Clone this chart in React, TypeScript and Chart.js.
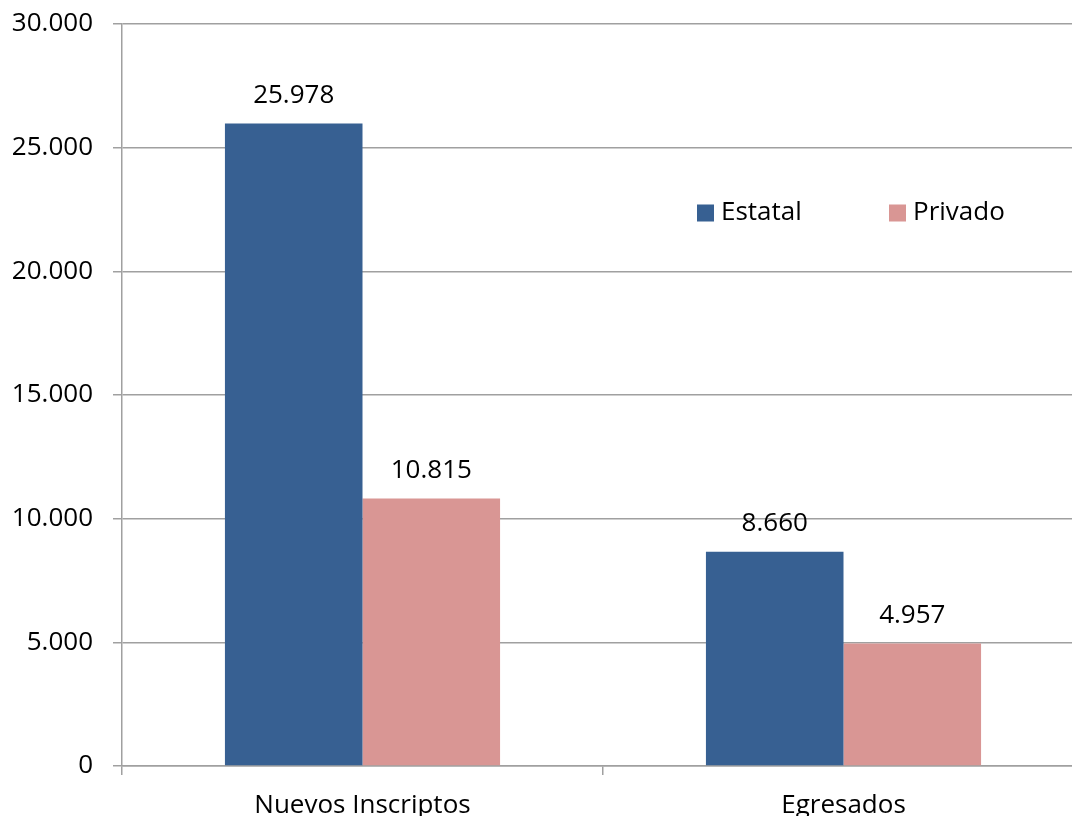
import React, { useEffect, useRef } from "react";
import { Chart, registerables } from "chart.js";

Chart.register(...registerables);

const categories = ["Nuevos Inscriptos", "Egresados"];
const estatal = [25978, 8660];
const privado = [10815, 4957];
const seriesNames = ["Estatal", "Privado"];
const yTicks = [0, 5000, 10000, 15000, 20000, 25000, 30000];

const FONT = "'Open Sans', 'Liberation Sans', sans-serif";
const FONT_SIZE = 26;

function fmt(v: number): string {
  const s = Math.round(v).toString();
  return s.replace(/\B(?=(\d{3})+(?!\d))/g, ".");
}

const valueLabels = {
  id: "valueLabels",
  afterDatasetsDraw(chart: any) {
    const ctx = chart.ctx;
    ctx.save();
    ctx.font = `${FONT_SIZE}px ${FONT}`;
    ctx.fillStyle = "#000";
    ctx.textAlign = "center";
    ctx.textBaseline = "middle";
    chart.data.datasets.forEach((ds: any, di: number) => {
      const meta = chart.getDatasetMeta(di);
      meta.data.forEach((el: any, i: number) => {
        ctx.fillText(fmt(ds.data[i]), el.x, el.y - 28);
      });
    });
    ctx.restore();
  },
};

const innerLegend = {
  id: "innerLegend",
  afterDraw(chart: any) {
    const ctx = chart.ctx;
    ctx.save();
    ctx.font = `${FONT_SIZE}px ${FONT}`;
    ctx.textBaseline = "middle";
    ctx.textAlign = "left";
    const startX = 697;
    const cy = 213;
    const step = 192;
    chart.data.datasets.forEach((ds: any, i: number) => {
      const x = startX + i * step;
      ctx.fillStyle = ds.backgroundColor;
      ctx.fillRect(x, cy - 8.5, 17, 17);
      ctx.fillStyle = "#000";
      ctx.fillText(ds.label, x + 24, cy);
    });
    ctx.restore();
  },
};

export default function App() {
  const ref = useRef<HTMLCanvasElement | null>(null);

  useEffect(() => {
    document.body.style.margin = "0";
    const canvas = ref.current;
    if (!canvas) return;
    const chart = new Chart(canvas, {
      type: "bar",
      data: {
        labels: categories,
        datasets: [
          {
            label: seriesNames[0],
            data: estatal,
            backgroundColor: "#376092",
            categoryPercentage: 0.572,
            barPercentage: 1,
          },
          {
            label: seriesNames[1],
            data: privado,
            backgroundColor: "#D99694",
            categoryPercentage: 0.572,
            barPercentage: 1,
          },
        ],
      },
      options: {
        responsive: false,
        animation: false,
        layout: { padding: { top: 24, right: 0, left: 0, bottom: 0 } },
        plugins: {
          legend: { display: false },
          tooltip: { enabled: false },
        },
        scales: {
          x: {
            offset: true,
            grid: {
              offset: true,
              drawOnChartArea: false,
              drawTicks: true,
              tickLength: 9,
              color: "#a0a0a0",
              lineWidth: 1.5,
            },
            border: { display: true, color: "#a0a0a0", width: 1.5 },
            ticks: {
              color: "#000",
              font: { family: FONT, size: FONT_SIZE },
              padding: 15,
            },
            afterFit(scale: any) {
              scale.height = 50;
              scale.paddingLeft = 0;
              scale.paddingRight = 0;
            },
          },
          y: {
            min: 0,
            max: 30000,
            afterBuildTicks(scale: any) {
              scale.ticks = yTicks.map((v) => ({ value: v }));
            },
            grid: {
              color: "#a0a0a0",
              lineWidth: 1.5,
              drawTicks: true,
              tickLength: 9,
            },
            border: { display: true, color: "#a0a0a0", width: 1.5 },
            ticks: {
              color: "#000",
              font: { family: FONT, size: FONT_SIZE },
              padding: 20,
              callback: (v: any) => fmt(Number(v)),
            },
            afterFit(scale: any) {
              scale.width = 122;
              scale.paddingTop = 0;
              scale.paddingBottom = 0;
            },
          },
        },
      },
      plugins: [valueLabels, innerLegend],
    });
    return () => chart.destroy();
  }, []);

  return (
    <div
      style={{
        position: "fixed",
        left: 0,
        top: 0,
        width: 1072,
        height: 816,
        overflow: "hidden",
        background: "#fff",
      }}
    >
      <canvas ref={ref} width={1084} height={816} style={{ display: "block" }} />
    </div>
  );
}
